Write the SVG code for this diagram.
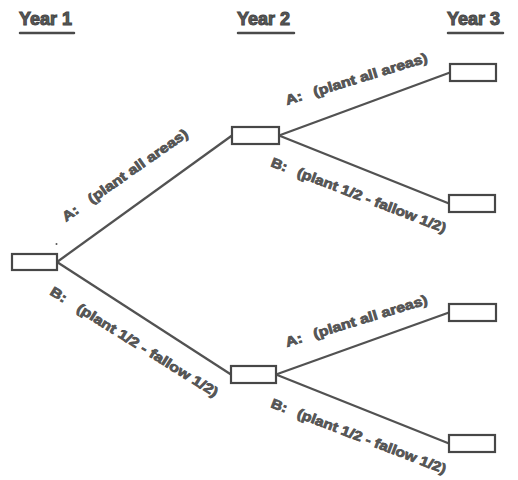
<svg xmlns="http://www.w3.org/2000/svg" width="518" height="480" viewBox="0 0 518 480">
<style>
.hdr{font-family:"Liberation Sans",Arial,sans-serif;font-weight:bold;font-size:18px;fill:#5a5a5a;stroke:#464646;stroke-width:1}
.ul{stroke:#4a4a4a;stroke-width:2.5;stroke-linecap:round}
.node{fill:#ffffff;stroke:#474747;stroke-width:2.2}
.edge{stroke:#525252;stroke-width:2.3;fill:none}
.lbl{font-family:"Liberation Sans",Arial,sans-serif;font-weight:bold;font-size:13.5px;fill:#5a5a5a;stroke:#4c4c4c;stroke-width:0.7}
</style>
<rect width="518" height="480" fill="#ffffff"/>
<g id="headers">
<text class="hdr" x="19" y="25">Year 1</text>
<line class="ul" x1="20" y1="33" x2="74" y2="33"/>
<text class="hdr" x="237" y="25">Year 2</text>
<line class="ul" x1="238" y1="33" x2="294" y2="33"/>
<text class="hdr" x="447" y="25">Year 3</text>
<line class="ul" x1="448" y1="33" x2="503" y2="33"/>
</g>
<g id="connectors">
<line class="edge" x1="57" y1="262" x2="232" y2="135.5"/>
<line class="edge" x1="57" y1="262" x2="231" y2="374.5"/>
<line class="edge" x1="279" y1="135.5" x2="450" y2="72.5"/>
<line class="edge" x1="279" y1="135.5" x2="449" y2="203.5"/>
<line class="edge" x1="276" y1="374.5" x2="449" y2="312.5"/>
<line class="edge" x1="276" y1="374.5" x2="449" y2="443.5"/>
<text class="lbl" transform="translate(66,222) rotate(-35) scale(1.2,1)">A:<tspan dx="12">(plant all areas)</tspan></text>
<text class="lbl" transform="translate(49,294) rotate(32) scale(1.2,1)">B:<tspan dx="12">(plant 1/2 - fallow 1/2)</tspan></text>
<text class="lbl" transform="translate(287,105) rotate(-17) scale(1.2,1)">A:<tspan dx="10">(plant all areas)</tspan></text>
<text class="lbl" transform="translate(270,166) rotate(21) scale(1.16,1)">B:<tspan dx="10">(plant 1/2 - fallow 1/2)</tspan></text>
<text class="lbl" transform="translate(287,347) rotate(-17) scale(1.2,1)">A:<tspan dx="10">(plant all areas)</tspan></text>
<text class="lbl" transform="translate(270,407) rotate(21) scale(1.16,1)">B:<tspan dx="10">(plant 1/2 - fallow 1/2)</tspan></text>
<circle cx="56.5" cy="244" r="1" fill="#555555"/>
</g>
<g id="n-y1"><rect class="node" x="12" y="254" width="45" height="16"/></g>
<g id="n-y2a"><rect class="node" x="232" y="127" width="47" height="17"/></g>
<g id="n-y2b"><rect class="node" x="231" y="366" width="45" height="17"/></g>
<g id="n-y3a"><rect class="node" x="450" y="64" width="46" height="17"/></g>
<g id="n-y3b"><rect class="node" x="449" y="195" width="46" height="17"/></g>
<g id="n-y3c"><rect class="node" x="449" y="304" width="47" height="17"/></g>
<g id="n-y3d"><rect class="node" x="449" y="435" width="46" height="17"/></g>
</svg>
